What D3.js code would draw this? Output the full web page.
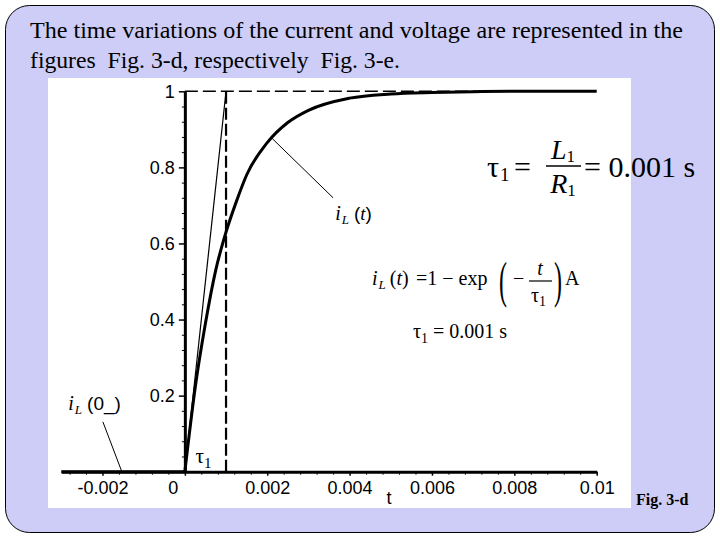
<!DOCTYPE html>
<html><head><meta charset="utf-8">
<script src="https://cdn.jsdelivr.net/npm/d3@7"></script>
<style>body{margin:0;background:#fff}svg{display:block}</style>
</head><body>
<svg id="c" width="720" height="540"></svg>
<script>
// ---- data ----
const tau = 0.001;
const curveT = [0, 0.00025, 0.0005, 0.00075, 0.001, 0.00125, 0.0015, 0.002, 0.0025, 0.003, 0.004, 0.005, 0.006, 0.007, 0.008, 0.01];
const curveI = [0, 0.22, 0.39, 0.53, 0.63, 0.71, 0.78, 0.865, 0.918, 0.95, 0.982, 0.993, 0.997, 0.999, 1.0, 1.0];
const preT = [-0.003, 0];
const preI = [0, 0];
const tangentT = [0, 0.001];
const tangentI = [0, 1];
const xTicks = [-0.002, 0, 0.002, 0.004, 0.006, 0.008, 0.01];
const xTickLabels = ["-0.002", "0", "0.002", "0.004", "0.006", "0.008", "0.01"];
const yTicks = [0.2, 0.4, 0.6, 0.8, 1];
const yTickLabels = ["0.2", "0.4", "0.6", "0.8", "1"];
const leader1T = [0.00212, 0.0036];
const leader1I = [0.876, 0.72];
const leader2T = [-0.00199, -0.00153];
const leader2I = [0.131, 0];

const serif = "Liberation Serif";
const sans = "Liberation Sans";
const svg = d3.select("#c");
// slide background
svg.append("rect").attr("x", 5.5).attr("y", 5.5).attr("width", 709).attr("height", 527)
  .attr("rx", 24).attr("fill", "#cdcdf7").attr("stroke", "#000").attr("stroke-width", 1);
// title
svg.append("text").attr("x", 30).attr("y", 38).attr("font-family", serif).attr("font-size", 23)
  .attr("textLength", 653).attr("lengthAdjust", "spacingAndGlyphs")
  .text("The time variations of the current and voltage are represented in the");
svg.append("text").attr("x", 30).attr("y", 68).attr("font-family", serif).attr("font-size", 23)
  .attr("textLength", 370).attr("lengthAdjust", "spacingAndGlyphs").attr("xml:space", "preserve")
  .text("figures  Fig. 3-d, respectively  Fig. 3-e.");
// white picture area
svg.append("rect").attr("x", 48).attr("y", 78).attr("width", 583).attr("height", 430).attr("fill", "#fff");
svg.append("text").attr("x", 636).attr("y", 505).attr("font-family", serif).attr("font-weight", "bold")
  .attr("font-size", 16).text("Fig. 3-d");

const x = d3.scaleLinear().domain([-0.003, 0.01]).range([61.3, 596.7]);
const y = d3.scaleLinear().domain([0, 1]).range([471.7, 91.3]);

const g = svg.append("g");
// dashed guides
g.append("line").attr("x1", x(0)).attr("x2", x(0.01)).attr("y1", y(1)).attr("y2", y(1))
  .attr("stroke", "#000").attr("stroke-width", 1.6).attr("stroke-dasharray", "13,5");
g.append("line").attr("x1", x(tau)).attr("x2", x(tau)).attr("y1", y(0)).attr("y2", y(1))
  .attr("stroke", "#000").attr("stroke-width", 2.2).attr("stroke-dasharray", "12,4");

// axes
const xAxis = g.append("g").attr("transform", `translate(0,${y(0)})`)
  .call(d3.axisBottom(x).tickValues(xTicks).tickFormat((d, i) => xTickLabels[i]).tickSizeInner(4).tickSizeOuter(0).tickPadding(6));
const xMinor = d3.range(-0.0028, 0.01, 0.0004).filter(v => !xTicks.some(t => Math.abs(t - v) < 1e-7));
g.append("g").attr("transform", `translate(0,${y(0)})`)
  .call(d3.axisBottom(x).tickValues(xMinor).tickFormat("").tickSizeInner(3).tickSizeOuter(0))
  .call(a => a.select(".domain").remove());
const yAxis = g.append("g").attr("transform", `translate(${x(0)},0)`)
  .call(d3.axisLeft(y).tickValues(yTicks).tickFormat((d, i) => yTickLabels[i]).tickSizeInner(6).tickSizeOuter(0).tickPadding(4));
const yMinor = d3.range(0.04, 1, 0.04).filter(v => !yTicks.some(t => Math.abs(t - v) < 1e-7));
g.append("g").attr("transform", `translate(${x(0)},0)`)
  .call(d3.axisLeft(y).tickValues(yMinor).tickFormat("").tickSizeInner(3).tickSizeOuter(0))
  .call(a => a.select(".domain").remove());
[xAxis, yAxis].forEach(a => {
  a.select(".domain").attr("stroke-width", 3);
  a.selectAll(".tick line").attr("stroke-width", 1.5);
  a.selectAll(".tick text").attr("font-family", sans).attr("font-size", 18).attr("fill", "#000");
});
xAxis.selectAll(".tick text").filter(d => d === 0).attr("dx", -12);
// axis title
g.append("text").attr("x", 389).attr("y", 504).attr("font-family", sans).attr("font-size", 18).attr("text-anchor", "middle").text("t");

// curves
const line = d3.line().x(d => x(d[0])).y(d => y(d[1]));
g.append("path").datum(d3.zip(tangentT, tangentI)).attr("d", line).attr("fill", "none").attr("stroke", "#000").attr("stroke-width", 1.2);
g.append("path").datum(d3.zip(preT, preI)).attr("d", line).attr("fill", "none").attr("stroke", "#000").attr("stroke-width", 3);
g.append("path").datum(d3.zip(curveT, curveI)).attr("d", d3.line().x(d => x(d[0])).y(d => y(d[1])).curve(d3.curveMonotoneX))
  .attr("fill", "none").attr("stroke", "#000").attr("stroke-width", 3);
g.append("path").datum(d3.zip(leader1T, leader1I)).attr("d", line).attr("stroke", "#000").attr("stroke-width", 1);
g.append("path").datum(d3.zip(leader2T, leader2I)).attr("d", line).attr("stroke", "#000").attr("stroke-width", 1);

// labels
function iL(xp, yp, argText, argItalic) {
  const t = g.append("text").attr("x", xp).attr("y", yp).attr("font-family", serif).attr("font-size", 20);
  t.append("tspan").attr("font-style", "italic").text("i");
  t.append("tspan").attr("font-style", "italic").attr("font-size", 13).attr("dy", 4).attr("dx", 1).text("L");
  t.append("tspan").attr("dy", -4).attr("dx", 5).attr("font-family", sans).attr("font-size", 19).text("(");
  t.append("tspan").attr("font-style", argItalic ? "italic" : "normal").attr("font-family", argItalic ? serif : sans).attr("font-size", 19).text(argText);
  t.append("tspan").attr("font-family", sans).attr("font-size", 19).text(")");
}
iL(x(0.00365), y(0.661), "t", true);
iL(x(-0.00283), y(0.162), "0_", false);
const tauLbl = g.append("text").attr("x", x(0.00026)).attr("y", y(0.023)).attr("font-family", serif).attr("font-size", 21);
tauLbl.append("tspan").text("τ");
tauLbl.append("tspan").attr("font-size", 15).attr("dy", 5).text("1");

// formula 1
const f1 = svg.append("g").attr("font-family", serif).attr("fill", "#000");
const a1 = f1.append("text").attr("x", 487).attr("y", 177).attr("font-size", 30);
a1.append("tspan").text("τ");
a1.append("tspan").attr("font-size", 19).attr("dy", 4).attr("dx", 1).text("1");
f1.append("text").attr("x", 514).attr("y", 177).attr("font-size", 30).text("=");
const L1 = f1.append("text").attr("x", 563).attr("y", 159).attr("font-size", 28).attr("text-anchor", "middle");
L1.append("tspan").attr("font-style", "italic").text("L");
L1.append("tspan").attr("font-size", 17).attr("dy", 3).text("1");
f1.append("line").attr("x1", 546).attr("x2", 581).attr("y1", 166).attr("y2", 166).attr("stroke", "#000").attr("stroke-width", 1.5);
const R1 = f1.append("text").attr("x", 563).attr("y", 193).attr("font-size", 28).attr("text-anchor", "middle");
R1.append("tspan").attr("font-style", "italic").text("R");
R1.append("tspan").attr("font-size", 17).attr("dy", 3).text("1");
f1.append("text").attr("x", 584).attr("y", 177).attr("font-size", 30).attr("xml:space", "preserve").text("= 0.001 s");

// formula 2
const f2 = svg.append("g").attr("font-family", serif).attr("fill", "#000").attr("font-size", 20);
const b = f2.append("text").attr("x", 372).attr("y", 285);
b.append("tspan").attr("font-style", "italic").text("i");
b.append("tspan").attr("font-style", "italic").attr("font-size", 13).attr("dy", 4).attr("dx", 1).text("L");
b.append("tspan").attr("dy", -4).attr("dx", 4).text("(");
b.append("tspan").attr("font-style", "italic").text("t");
b.append("tspan").text(")");
f2.append("text").attr("x", 416).attr("y", 285).attr("xml:space", "preserve").text("=1 − exp");
f2.append("text").attr("font-size", 24).attr("transform", "translate(499,297) scale(1,2.1)").text("(");
f2.append("text").attr("x", 513).attr("y", 285).text("−");
f2.append("text").attr("x", 540).attr("y", 275).attr("text-anchor", "middle").attr("font-style", "italic").text("t");
f2.append("line").attr("x1", 529).attr("x2", 552).attr("y1", 281).attr("y2", 281).attr("stroke", "#000").attr("stroke-width", 1.2);
const tb = f2.append("text").attr("x", 531).attr("y", 302);
tb.append("tspan").text("τ");
tb.append("tspan").attr("font-size", 14).attr("dy", 4).text("1");
f2.append("text").attr("font-size", 24).attr("transform", "translate(554,297) scale(1,2.1)").text(")");
f2.append("text").attr("x", 565).attr("y", 285).text("A");
const c2 = f2.append("text").attr("x", 413).attr("y", 338);
c2.append("tspan").text("τ");
c2.append("tspan").attr("font-size", 14).attr("dy", 5).text("1");
c2.append("tspan").attr("dy", -5).attr("xml:space", "preserve").text(" = 0.001 s");
</script>
</body></html>
